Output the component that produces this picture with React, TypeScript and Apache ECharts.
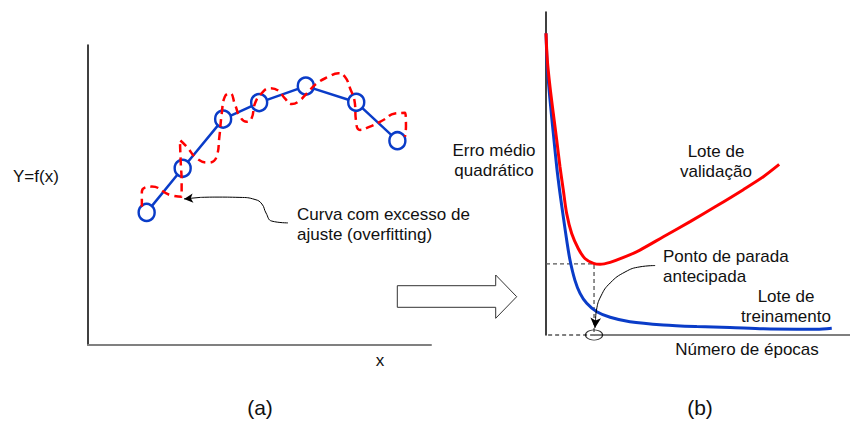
import React, { useEffect, useRef } from "react";
import * as echarts from "echarts";

// ---- Panel (a): data points and overfitting curve (x, y in 0..10 units)
const fitPoints: number[][] = [
  [1.71, 4.42], [2.76, 5.89], [3.94, 7.53], [4.99, 8.08],
  [6.35, 8.63], [7.82, 8.09], [9.02, 6.81],
];
const overfitCurve: number[][] = [
  [1.57, 4.61], [1.57, 5.11], [1.86, 5.28], [2.39, 5.0], [2.73, 4.94],
  [2.73, 5.39], [2.7, 6.17], [2.68, 6.83], [2.88, 6.61], [3.17, 6.22],
  [3.51, 6.08], [3.75, 6.28], [3.83, 6.94], [3.9, 7.72], [3.99, 8.28],
  [4.14, 8.39], [4.29, 8.0], [4.43, 7.61], [4.63, 7.44], [4.77, 7.56],
  [4.87, 8.06], [5.06, 8.39], [5.31, 8.56], [5.55, 8.48], [5.74, 8.22],
  [5.94, 8.03], [6.13, 8.11], [6.38, 8.39], [6.67, 8.72], [7.01, 8.94],
  [7.3, 9.06], [7.49, 8.94], [7.64, 8.56], [7.78, 8.06], [7.81, 7.5],
  [7.93, 7.17], [8.22, 7.28], [8.61, 7.5], [8.95, 7.72], [9.24, 7.74],
  [9.27, 7.28], [9.24, 6.94],
];
const overfitPointer: number[][] = [
  [5.83, 4.07], [5.36, 4.13], [5.19, 4.4], [5.07, 4.7], [4.87, 4.85],
  [4.43, 4.92], [3.7, 4.93], [3.27, 4.92],
];
const overfitArrowTip: number[] = [2.8, 4.87];

// ---- Panel (b): error vs. epochs (x: epochs 0..100, y: error 0..100)
const validationErr: number[][] = [
  [0, 93.4], [0.43, 85.1], [1.32, 76.8], [2.4, 68.6], [3.52, 60.4],
  [4.6, 52.1], [5.69, 44.9], [6.8, 37.6], [8.45, 31.4], [10.6, 26.8],
  [12.8, 23.7], [15.6, 22.2], [17.8, 21.9], [21.1, 22.5], [25.5, 24.0],
  [30.9, 26.3], [38.6, 30.4], [47.4, 35.1], [56.2, 40.0], [64.9, 45.0],
  [71.5, 49.0], [76.7, 52.8],
];
const trainingErr: number[][] = [
  [0, 93.4], [0.43, 83.1], [1.32, 72.8], [2.4, 62.5], [3.52, 52.1],
  [4.6, 43.9], [5.69, 36.6], [6.8, 29.4], [7.89, 23.2], [9.5, 17.0],
  [11.2, 12.9], [13.4, 9.8], [16.7, 7.2], [21.1, 5.5], [27.6, 4.1],
  [38.6, 3.1], [49.6, 2.6], [60.5, 2.3], [71.5, 1.9], [82.5, 1.8],
  [89.0, 1.8], [94.0, 2.1],
];
const stopEpoch = 15.8;
const stopError = 22.0;
const stopPointer: number[][] = [
  [35.9, 21.5], [30.9, 21.1], [26.0, 19.5], [21.1, 16.1], [18.1, 12.1],
  [16.6, 7.7], [16.3, 4.6],
];
const stopArrowTip: number[] = [16.1, 2.2];

const FONT = "'Liberation Sans', Arial, sans-serif";
const TXT = "#111";

function txt(text: string, x: number, y: number, align: string = "left", size = 17) {
  return {
    type: "text",
    x,
    y,
    silent: true,
    style: {
      text,
      fill: TXT,
      font: `${size}px ${FONT}`,
      fontFamily: FONT,
      fontSize: size,
      textAlign: align,
      textVerticalAlign: "middle",
    },
  };
}

export default function App() {
  const ref = useRef<HTMLDivElement>(null);

  useEffect(() => {
    if (!ref.current) return;
    const chart = echarts.init(ref.current, null, { renderer: "svg" });
    const blue = "#0a3cc8";
    const red = "#ff0000";

    const hiddenAxisBits = {
      axisTick: { show: false },
      axisLabel: { show: false },
      splitLine: { show: false },
    };

    const arrowMark = (from: number[], to: number[], size: number[]) => ({
      silent: true,
      symbol: ["none", "arrow"],
      symbolSize: size,
      label: { show: false },
      lineStyle: { color: "#000", width: 1, type: "solid" },
      data: [[{ coord: from }, { coord: to }]],
    });

    chart.setOption({
      animation: false,
      backgroundColor: "#ffffff",
      grid: [
        { left: 88, top: 45, width: 343, height: 300 },
        { left: 546, top: 12, width: 304, height: 323 },
      ],
      xAxis: [
        {
          gridIndex: 0, type: "value", min: 0, max: 10,
          axisLine: { show: true, lineStyle: { color: "#808080", width: 2 } },
          ...hiddenAxisBits,
        },
        {
          gridIndex: 1, type: "value", min: 0, max: 100,
          axisLine: { show: false },
          ...hiddenAxisBits,
        },
      ],
      yAxis: [
        {
          gridIndex: 0, type: "value", min: 0, max: 10,
          axisLine: { show: true, lineStyle: { color: "#000", width: 1.5 } },
          ...hiddenAxisBits,
        },
        {
          gridIndex: 1, type: "value", min: 0, max: 100,
          axisLine: { show: true, lineStyle: { color: "#000", width: 1.5 } },
          ...hiddenAxisBits,
        },
      ],
      series: [
        // ---------- panel (a)
        {
          type: "line", xAxisIndex: 0, yAxisIndex: 0, z: 2,
          data: fitPoints,
          symbol: "circle", symbolSize: [16, 17], showSymbol: true,
          itemStyle: { color: "#fff", borderColor: blue, borderWidth: 2.5 },
          lineStyle: { color: blue, width: 2.5 },
          clip: false, silent: true,
        },
        {
          type: "line", xAxisIndex: 0, yAxisIndex: 0, z: 3,
          data: overfitCurve, smooth: 0.5,
          symbol: "none",
          lineStyle: { color: red, width: 2.5, type: [8, 5] },
          clip: false, silent: true,
        },
        {
          type: "line", xAxisIndex: 0, yAxisIndex: 0, z: 4,
          data: overfitPointer, smooth: 0.5,
          symbol: "none",
          lineStyle: { color: "#000", width: 1 },
          clip: false, silent: true,
          markLine: arrowMark(overfitPointer[overfitPointer.length - 1], overfitArrowTip, [7, 9]),
        },
        // ---------- panel (b)
        {
          type: "line", xAxisIndex: 1, yAxisIndex: 1, z: 2,
          data: [[stopEpoch, 0], [100, 0]],
          symbol: "none",
          lineStyle: { color: "#555", width: 1.5 },
          clip: false, silent: true,
        },
        {
          type: "line", xAxisIndex: 1, yAxisIndex: 1, z: 2,
          data: [[0, stopError], [stopEpoch, stopError], [stopEpoch, 0], [0, 0]],
          symbol: "none",
          lineStyle: { color: "#555", width: 1.3, type: [4, 3] },
          clip: false, silent: true,
        },
        {
          type: "line", xAxisIndex: 1, yAxisIndex: 1, z: 3,
          data: trainingErr, smooth: 0.3,
          symbol: "none",
          lineStyle: { color: blue, width: 3 },
          clip: false, silent: true,
        },
        {
          type: "line", xAxisIndex: 1, yAxisIndex: 1, z: 4,
          data: validationErr, smooth: 0.3,
          symbol: "none",
          lineStyle: { color: red, width: 3 },
          clip: false, silent: true,
        },
        {
          type: "scatter", xAxisIndex: 1, yAxisIndex: 1, z: 5,
          data: [[stopEpoch, 0]],
          symbol: "circle", symbolSize: [17, 10],
          itemStyle: { color: "rgba(255,255,255,0)", borderColor: "#000", borderWidth: 1 },
          silent: true,
        },
        {
          type: "line", xAxisIndex: 1, yAxisIndex: 1, z: 6,
          data: stopPointer, smooth: 0.5,
          symbol: "none",
          lineStyle: { color: "#000", width: 1 },
          clip: false, silent: true,
          markLine: arrowMark(stopPointer[stopPointer.length - 1], stopArrowTip, [8, 10]),
        },
      ],
      graphic: [
        {
          type: "polygon",
          silent: true,
          shape: {
            points: [
              [397.3, 285.7], [495.7, 285.7], [495.7, 275], [516.7, 296.7],
              [495.7, 318.3], [495.7, 307.3], [397.3, 307.3],
            ],
          },
          style: { fill: "#fff", stroke: "#333", lineWidth: 1 },
        },
        txt("Y=f(x)", 13, 176),
        txt("x", 380, 360, "center"),
        txt("Curva com excesso de", 297, 214),
        txt("ajuste (overfitting)", 297, 234),
        txt("(a)", 260, 407, "center", 21),
        txt("(b)", 700, 407, "center", 21),
        txt("Erro médio", 494, 150, "center"),
        txt("quadrático", 494, 170, "center"),
        txt("Lote de", 716, 151, "center"),
        txt("validação", 716, 171, "center"),
        txt("Ponto de parada", 663, 256),
        txt("antecipada", 663, 276),
        txt("Lote de", 786, 296, "center"),
        txt("treinamento", 786, 316, "center"),
        txt("Número de épocas", 747, 349, "center"),
      ],
    });

    return () => chart.dispose();
  }, []);

  return (
    <div
      ref={ref}
      style={{ position: "fixed", left: 0, top: 0, width: 850, height: 421, background: "#fff" }}
    />
  );
}
